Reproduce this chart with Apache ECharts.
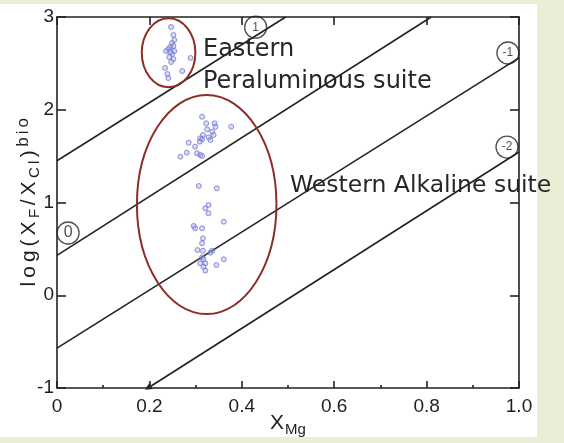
<!DOCTYPE html>
<html>
<head>
<meta charset="utf-8">
<script src="https://cdn.jsdelivr.net/npm/echarts@6/dist/echarts.min.js"></script>
<style>
  html, body { margin:0; padding:0; background:#e9eed6; }
  #wrap { position:relative; width:564px; height:443px; background:#e9eed6; }
  #paper { position:absolute; left:0; top:4px; width:537px; height:433px; background:#ffffff; }
  #c { position:absolute; left:0; top:0; width:564px; height:443px; }
</style>
</head>
<body>
<div id="wrap"><div id="paper"></div><div id="c"></div></div>
<script>
// ---- data ----
const xTicks = [0, 0.2, 0.4, 0.6, 0.8, 1.0];
const yTicks = [-1, 0, 1, 2, 3];

// reference lines (labelled) : start and end points in data units
const lineLabels = ['1', '0', '-1', '-2'];
const lineStartX = [0, 0, 0, 0.197];
const lineStartY = [1.45, 0.43, -0.57, -1];
const lineEndX   = [0.495, 0.81, 1, 1];
const lineEndY   = [3, 3, 2.56, 1.544];

// circled line labels
const circleX = [0.43, 0.024, 0.976, 0.974];
const circleY = [2.89, 0.671, 2.612, 1.598];

// suite outlines (ellipses): centre and half-axes in data units
const suiteNames = ['Eastern Peraluminous suite', 'Western Alkaline suite'];
const suiteCx = [0.2415, 0.324];
const suiteCy = [2.614, 0.978];
const suiteRx = [0.058, 0.151];
const suiteRy = [0.372, 1.181];

// biotite analyses
const easternX = [0.247,0.252,0.249,0.245,0.252,0.241,0.236,0.254,0.249,0.243,0.252,0.247,0.289,0.234,0.271,0.239,0.241,0.254,0.245];
const easternY = [2.892,2.806,2.720,2.677,2.687,2.655,2.633,2.633,2.601,2.569,2.547,2.515,2.558,2.450,2.418,2.385,2.342,2.752,2.622];
const westernX = [0.314,0.323,0.341,0.343,0.377,0.325,0.336,0.316,0.310,0.314,0.328,0.339,0.309,0.332,0.285,0.299,0.281,0.303,0.267,0.310,0.314,
                  0.307,0.346,0.328,0.321,0.328,0.296,0.299,0.314,0.361,0.316,0.314,0.304,0.316,0.336,0.332,0.314,0.317,0.321,0.310,0.345,0.361,0.317,0.321];
const westernY = [1.925,1.854,1.854,1.817,1.817,1.789,1.763,1.728,1.692,1.681,1.703,1.728,1.656,1.674,1.645,1.602,1.537,1.530,1.494,1.512,1.501,
                  1.178,1.153,0.973,0.937,0.884,0.747,0.722,0.722,0.793,0.614,0.560,0.488,0.480,0.480,0.459,0.409,0.388,0.344,0.344,0.326,0.388,0.308,0.265];

// axis titles
const yTitleParts = [['t','log('], ['t','X'], ['s','F'], ['t','/'], ['t','X'], ['s','Cl'], ['t',')'], ['p','bio']];
const xTitleParts = [['t','X'], ['s','Mg']];

// ---- chart ----
const ink = '#222';
const chart = echarts.init(document.getElementById('c'), null, {renderer:'canvas', width:564, height:443});

const pts = (xs, ys) => xs.map((x, i) => [x, ys[i]]);
const richTitle = parts => parts.map(([k, s]) => s.split('').map(ch => '{' + k + '|' + ch + '}').join('')).join('');

const lineSeries = lineLabels.map((lab, i) => ({
  type: 'line',
  name: 'line ' + lab,
  data: [
    (i === 3 ? {value:[lineStartX[i], lineStartY[i]], symbol:'triangle', symbolSize:7, symbolRotate:122} : {value:[lineStartX[i], lineStartY[i]], symbol:'none'}),
    {value:[lineEndX[i], lineEndY[i]], symbol:'none'}
  ],
  showSymbol: true,
  itemStyle: {color: ink},
  lineStyle: {color: ink, width: 1.6},
  silent: true, z: 3
}));

const option = {
  animation: false,
  backgroundColor: 'transparent',
  grid: {left:57, top:17, width:462, height:371, show:false, containLabel:false, outerBoundsMode:'none'},
  xAxis: [{
    type:'value', min:0, max:1, interval:0.2, position:'bottom',
    axisLine:{show:true, onZero:false, lineStyle:{color:ink, width:1.6}},
    axisTick:{show:true, inside:true, length:7, lineStyle:{color:ink, width:1.6}},
    minorTick:{show:true, splitNumber:2, length:3, lineStyle:{color:ink, width:1.6}},
    splitLine:{show:false},
    axisLabel:{margin:9, color:'#1e1e1e', fontSize:19, fontFamily:'Liberation Sans',
      formatter: v => (v === 0 ? '0' : v.toFixed(1))},
    name: richTitle(xTitleParts), nameLocation:'middle', nameGap:22, nameMoveOverlap:false,
    nameTextStyle:{rich:{
      t:{fontSize:21, color:'#1e1e1e', fontFamily:'Liberation Sans', padding:[0,1,0,0]},
      s:{fontSize:15, color:'#1e1e1e', fontFamily:'Liberation Sans', padding:[12,0,0,0]}
    }}
  },{
    type:'value', min:0, max:1, interval:0.2, position:'top',
    axisLine:{show:true, onZero:false, lineStyle:{color:ink, width:1.6}},
    axisTick:{show:true, inside:true, length:8, lineStyle:{color:ink, width:1.6}},
    axisLabel:{show:false}, splitLine:{show:false}
  }],
  yAxis: [{
    type:'value', min:-1, max:3, interval:1, position:'left',
    axisLine:{show:true, onZero:false, lineStyle:{color:ink, width:1.6}},
    axisTick:{show:true, inside:true, length:9, lineStyle:{color:ink, width:1.6}},
    splitLine:{show:false},
    axisLabel:{margin:3, color:'#1e1e1e', fontSize:19, fontFamily:'Liberation Sans'},
    name: richTitle(yTitleParts), nameLocation:'middle', nameRotate:90, nameGap:14, nameMoveOverlap:false,
    nameTextStyle:{rich:{
      t:{fontSize:21, color:'#1e1e1e', fontFamily:'Liberation Sans', padding:[0,2,0,2]},
      s:{fontSize:15, color:'#1e1e1e', fontFamily:'Liberation Sans', padding:[11,1.5,0,1.5]},
      p:{fontSize:17, color:'#1e1e1e', fontFamily:'Liberation Sans', padding:[0,1.5,11,1.5]}
    }}
  },{
    type:'value', min:-1, max:3, interval:1, position:'right',
    axisLine:{show:true, onZero:false, lineStyle:{color:ink, width:1.6}},
    axisTick:{show:true, inside:true, length:9, lineStyle:{color:ink, width:1.6}},
    axisLabel:{show:false}, splitLine:{show:false}
  }],
  graphic: [
    {type:'text', left:203, top:38, z:100, silent:true,
     style:{text:'Eastern', fontSize:24, fontFamily:'DejaVu Sans', fill:'#262626'}},
    {type:'text', left:203, top:70, z:100, silent:true,
     style:{text:'Peraluminous suite', fontSize:24, fontFamily:'DejaVu Sans', fill:'#262626'}},
    {type:'text', left:290, top:174, z:100, silent:true,
     style:{text:'Western Alkaline suite', fontSize:23.5, fontFamily:'DejaVu Sans', fill:'#262626'}}
  ],
  series: [
    ...lineSeries,
    {
      type:'custom', name:'suites', coordinateSystem:'cartesian2d', silent:true, z:4,
      data: suiteNames.map((n, i) => [suiteCx[i], suiteCy[i], suiteRx[i], suiteRy[i]]),
      renderItem: (params, api) => {
        const c = api.coord([api.value(0), api.value(1)]);
        const s = api.size([api.value(2), api.value(3)]);
        return {type:'ellipse', shape:{cx:c[0], cy:c[1], rx:s[0], ry:s[1]},
                style:{fill:'none', stroke:'#8b2e24', lineWidth:2}};
      }
    },
    {
      type:'scatter', name:'Eastern', data: pts(easternX, easternY),
      symbol:'circle', symbolSize:5, z:5, silent:true,
      itemStyle:{color:'rgba(160,165,228,0.5)', borderColor:'#656ccb', borderWidth:0.9}
    },
    {
      type:'scatter', name:'Western', data: pts(westernX, westernY),
      symbol:'circle', symbolSize:5, z:5, silent:true,
      itemStyle:{color:'rgba(160,165,228,0.5)', borderColor:'#656ccb', borderWidth:0.9}
    },
    {
      type:'scatter', name:'labels',
      data: lineLabels.map((l, i) => ({value:[circleX[i], circleY[i]], name:l,
              label: (l === '0' ? {fontSize:16} : undefined)})),
      symbol:'circle', symbolSize:22, z:6, silent:true,
      itemStyle:{color:'rgba(255,255,255,0)', borderColor:ink, borderWidth:1.3},
      label:{show:true, position:'inside', formatter: p => p.name, color:ink, fontSize:12, fontFamily:'Liberation Sans'}
    }
  ]
};
chart.setOption(option);
</script>
</body>
</html>
